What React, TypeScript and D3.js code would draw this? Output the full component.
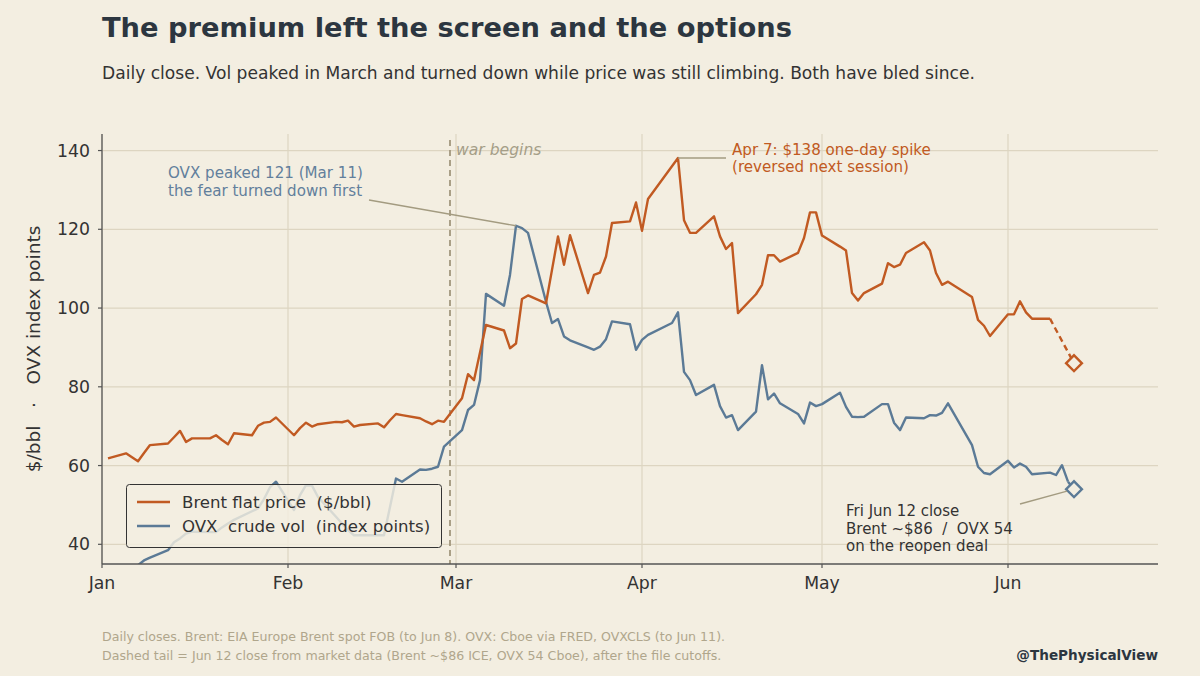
import { useEffect, useRef } from "react";
import * as d3 from "d3";

// Brent spot (EIA), daily closes
const brentDates = [
  "2026-01-02", "2026-01-05", "2026-01-06", "2026-01-07", "2026-01-08", "2026-01-09",
  "2026-01-12", "2026-01-13", "2026-01-14", "2026-01-15", "2026-01-16", "2026-01-19",
  "2026-01-20", "2026-01-21", "2026-01-22", "2026-01-23", "2026-01-26", "2026-01-27",
  "2026-01-28", "2026-01-29", "2026-01-30", "2026-02-02", "2026-02-03", "2026-02-04",
  "2026-02-05", "2026-02-06", "2026-02-09", "2026-02-10", "2026-02-11", "2026-02-12",
  "2026-02-13", "2026-02-16", "2026-02-17", "2026-02-18", "2026-02-19", "2026-02-20",
  "2026-02-23", "2026-02-24", "2026-02-25", "2026-02-26", "2026-02-27", "2026-03-02",
  "2026-03-03", "2026-03-04", "2026-03-05", "2026-03-06", "2026-03-09", "2026-03-10",
  "2026-03-11", "2026-03-12", "2026-03-13", "2026-03-16", "2026-03-17", "2026-03-18",
  "2026-03-19", "2026-03-20", "2026-03-23", "2026-03-24", "2026-03-25", "2026-03-26",
  "2026-03-27", "2026-03-30", "2026-03-31", "2026-04-01", "2026-04-02", "2026-04-07",
  "2026-04-08", "2026-04-09", "2026-04-10", "2026-04-13", "2026-04-14", "2026-04-15",
  "2026-04-16", "2026-04-17", "2026-04-20", "2026-04-21", "2026-04-22", "2026-04-23",
  "2026-04-24", "2026-04-27", "2026-04-28", "2026-04-29", "2026-04-30", "2026-05-01",
  "2026-05-04", "2026-05-05", "2026-05-06", "2026-05-07", "2026-05-08", "2026-05-11",
  "2026-05-12", "2026-05-13", "2026-05-14", "2026-05-15", "2026-05-18", "2026-05-19",
  "2026-05-20", "2026-05-21", "2026-05-22", "2026-05-26", "2026-05-27", "2026-05-28",
  "2026-05-29", "2026-06-01", "2026-06-02", "2026-06-03", "2026-06-04", "2026-06-05",
  "2026-06-08",
];
const brentClose = [
  61.8, 63.1, 62.1, 61.1, 63.2, 65.2,
  65.6, 67.2, 68.8, 66.0, 66.9, 66.9,
  67.7, 66.5, 65.4, 68.2, 67.7, 70.1,
  70.9, 71.1, 72.2, 67.7, 69.5, 70.9,
  69.9, 70.5, 71.1, 71.0, 71.4, 69.9,
  70.3, 70.7, 69.7, 71.5, 73.1, 72.8,
  72.0, 71.2, 70.5, 71.4, 71.1, 77.1,
  83.2, 81.7, 88.7, 95.7, 94.3, 89.8,
  91.0, 102.3, 103.2, 101.2, 109.7, 118.2,
  111.0, 118.5, 103.8, 108.4, 109.0, 113.1,
  121.6, 122.0, 126.8, 119.6, 127.7, 138.1,
  122.3, 119.1, 119.1, 123.3, 118.2, 115.0,
  116.5, 98.7, 103.5, 105.9, 113.4, 113.4,
  111.8, 114.0, 117.8, 124.3, 124.3, 118.4,
  115.6, 114.6, 103.8, 101.9, 103.8, 106.2,
  111.4, 110.4, 111.0, 114.0, 116.7, 114.6,
  108.9, 105.9, 106.7, 102.8, 97.0, 95.5,
  92.9, 98.4, 98.4, 101.7, 98.9, 97.3,
  97.3,
];

// OVX (Cboe via FRED), daily closes
const ovxDates = [
  "2026-01-02", "2026-01-05", "2026-01-06", "2026-01-07", "2026-01-08", "2026-01-09",
  "2026-01-12", "2026-01-13", "2026-01-14", "2026-01-15", "2026-01-16", "2026-01-20",
  "2026-01-21", "2026-01-22", "2026-01-23", "2026-01-26", "2026-01-27", "2026-01-28",
  "2026-01-29", "2026-01-30", "2026-02-02", "2026-02-03", "2026-02-04", "2026-02-05",
  "2026-02-06", "2026-02-09", "2026-02-10", "2026-02-11", "2026-02-12", "2026-02-13",
  "2026-02-17", "2026-02-18", "2026-02-19", "2026-02-20", "2026-02-23", "2026-02-24",
  "2026-02-25", "2026-02-26", "2026-02-27", "2026-03-02", "2026-03-03", "2026-03-04",
  "2026-03-05", "2026-03-06", "2026-03-09", "2026-03-10", "2026-03-11", "2026-03-12",
  "2026-03-13", "2026-03-16", "2026-03-17", "2026-03-18", "2026-03-19", "2026-03-20",
  "2026-03-23", "2026-03-24", "2026-03-25", "2026-03-26", "2026-03-27", "2026-03-30",
  "2026-03-31", "2026-04-01", "2026-04-02", "2026-04-06", "2026-04-07", "2026-04-08",
  "2026-04-09", "2026-04-10", "2026-04-13", "2026-04-14", "2026-04-15", "2026-04-16",
  "2026-04-17", "2026-04-20", "2026-04-21", "2026-04-22", "2026-04-23", "2026-04-24",
  "2026-04-27", "2026-04-28", "2026-04-29", "2026-04-30", "2026-05-01", "2026-05-04",
  "2026-05-05", "2026-05-06", "2026-05-07", "2026-05-08", "2026-05-11", "2026-05-12",
  "2026-05-13", "2026-05-14", "2026-05-15", "2026-05-18", "2026-05-19", "2026-05-20",
  "2026-05-21", "2026-05-22", "2026-05-26", "2026-05-27", "2026-05-28", "2026-05-29",
  "2026-06-01", "2026-06-02", "2026-06-03", "2026-06-04", "2026-06-05", "2026-06-08",
  "2026-06-09", "2026-06-10", "2026-06-11",
];
const ovxClose = [
  31.0, 32.5, 33.6, 34.7, 35.9, 36.6,
  38.5, 40.5, 41.5, 42.7, 43.2, 43.1,
  44.3, 45.3, 46.2, 48.4, 49.1, 51.5,
  54.5, 55.9, 48.7, 52.5, 55.0, 54.9,
  52.0, 47.0, 45.3, 43.6, 42.3, 42.3,
  42.3, 49.5, 56.7, 55.9, 59.0, 58.9,
  59.2, 59.7, 64.8, 69.0, 74.1, 75.4,
  81.7, 103.6, 100.6, 108.4, 120.9, 120.3,
  119.1, 101.6, 96.2, 97.2, 92.8, 91.8,
  90.0, 89.4, 90.2, 92.1, 96.6, 95.9,
  89.4, 91.9, 93.2, 96.2, 98.9, 83.8,
  81.7, 77.9, 80.5, 75.1, 72.2, 72.8,
  69.0, 73.7, 85.5, 76.8, 78.3, 75.8,
  73.1, 70.7, 76.0, 75.1, 75.6, 78.5,
  74.9, 72.4, 72.3, 72.4, 75.6, 75.6,
  70.9, 69.0, 72.2, 72.0, 72.8, 72.7,
  73.4, 75.8, 65.2, 59.7, 58.1, 57.8,
  61.2, 59.5, 60.5, 59.7, 57.8, 58.2,
  57.6, 60.1, 55.9,
];

// Jun 12 close from market data (after the file cutoffs)
const tailDate = "2026-06-12";
const brentTail = 86;
const ovxTail = 54;

const warDate = "2026-02-28";
const ovxPeakDate = "2026-03-11";
const ovxPeakValue = 120.9;
const brentSpikeDate = "2026-04-07";
const brentSpikeValue = 138.1;

const monthTicks = ["2026-01-01", "2026-02-01", "2026-03-01", "2026-04-01", "2026-05-01", "2026-06-01"];
const monthLabels = ["Jan", "Feb", "Mar", "Apr", "May", "Jun"];
const yTicks = [40, 60, 80, 100, 120, 140];

const BG = "#f3eee1";
const BRENT = "#c15a22";
const OVX = "#5b7a96";
const INK = "#2c3640";
const GRID = "#ddd5c1";
const LEADER = "#a39b80";
const FONT = "DejaVu Sans, sans-serif";

export default function App() {
  const svgRef = useRef<SVGSVGElement>(null);
  const width = 1200;
  const height = 676;

  useEffect(() => {
    if (!svgRef.current) return;
    const parse = d3.timeParse("%Y-%m-%d");
    const svg = d3.select(svgRef.current);
    svg.selectAll("*").remove();

    const left = 102;
    const right = 1158;
    const top = 134;
    const bottom = 564;

    const x = d3
      .scaleTime()
      .domain([parse("2026-01-01")!, parse("2026-06-26")!])
      .range([left, right]);
    const y = d3.scaleLinear().domain([35, 144.2]).range([bottom, top]);

    svg.append("rect").attr("width", width).attr("height", height).attr("fill", BG);

    // clip for the plot area
    svg
      .append("defs")
      .append("clipPath")
      .attr("id", "plot-clip")
      .append("rect")
      .attr("x", left)
      .attr("y", top)
      .attr("width", right - left)
      .attr("height", bottom - top);

    // Title + subtitle
    svg
      .append("text")
      .attr("x", 102)
      .attr("y", 37)
      .attr("font-family", FONT)
      .attr("font-size", 27.3)
      .attr("font-weight", "bold")
      .attr("fill", INK)
      .text("The premium left the screen and the options");
    svg
      .append("text")
      .attr("x", 102)
      .attr("y", 79)
      .attr("font-family", FONT)
      .attr("font-size", 17.1)
      .attr("fill", "#333")
      .text(
        "Daily close. Vol peaked in March and turned down while price was still climbing. Both have bled since."
      );

    // Grid
    const grid = svg.append("g");
    grid
      .selectAll("line.h")
      .data(yTicks)
      .enter()
      .append("line")
      .attr("x1", left)
      .attr("x2", right)
      .attr("y1", (d) => y(d))
      .attr("y2", (d) => y(d))
      .attr("stroke", GRID)
      .attr("stroke-width", 1.2);
    grid
      .selectAll("line.v")
      .data(monthTicks)
      .enter()
      .append("line")
      .attr("x1", (d) => x(parse(d)!))
      .attr("x2", (d) => x(parse(d)!))
      .attr("y1", top)
      .attr("y2", bottom)
      .attr("stroke", GRID)
      .attr("stroke-width", 1.2);

    // war begins marker
    const xWar = x(parse(warDate)!);
    svg
      .append("line")
      .attr("x1", xWar)
      .attr("x2", xWar)
      .attr("y1", 140)
      .attr("y2", bottom)
      .attr("stroke", "#a2977e")
      .attr("stroke-width", 1.8)
      .attr("stroke-dasharray", "6,4");
    svg
      .append("text")
      .attr("x", xWar + 6)
      .attr("y", 155)
      .attr("font-family", FONT)
      .attr("font-size", 15.6)
      .attr("font-style", "italic")
      .attr("fill", "#a59e88")
      .text("war begins");

    // Lines
    type Pt = { date: Date; value: number };
    const brent: Pt[] = brentDates.map((d, i) => ({ date: parse(d)!, value: brentClose[i] }));
    const ovx: Pt[] = ovxDates.map((d, i) => ({ date: parse(d)!, value: ovxClose[i] }));
    const line = d3
      .line<Pt>()
      .x((d) => x(d.date))
      .y((d) => y(d.value));

    const plot = svg.append("g").attr("clip-path", "url(#plot-clip)");
    plot
      .append("path")
      .attr("d", line(ovx))
      .attr("fill", "none")
      .attr("stroke", OVX)
      .attr("stroke-width", 2.4)
      .attr("stroke-linejoin", "round");
    plot
      .append("path")
      .attr("d", line(brent))
      .attr("fill", "none")
      .attr("stroke", BRENT)
      .attr("stroke-width", 2.4)
      .attr("stroke-linejoin", "round");

    // Dashed tails + diamonds
    const tail = parse(tailDate)!;
    const tails = [
      { last: brent[brent.length - 1], value: brentTail, color: BRENT },
      { last: ovx[ovx.length - 1], value: ovxTail, color: OVX },
    ];
    tails.forEach((t) => {
      plot
        .append("path")
        .attr("d", line([t.last, { date: tail, value: t.value }]))
        .attr("fill", "none")
        .attr("stroke", t.color)
        .attr("stroke-width", 2.4)
        .attr("stroke-dasharray", "6,4");
    });
    tails.forEach((t) => {
      svg
        .append("path")
        .attr("d", d3.symbol(d3.symbolSquare, 125)())
        .attr("transform", `translate(${x(tail)},${y(t.value)}) rotate(45)`)
        .attr("fill", BG)
        .attr("stroke", t.color)
        .attr("stroke-width", 2.4);
    });

    // Axes
    svg
      .append("line")
      .attr("x1", left)
      .attr("x2", left)
      .attr("y1", top)
      .attr("y2", bottom)
      .attr("stroke", "#555")
      .attr("stroke-width", 1.3);
    svg
      .append("line")
      .attr("x1", left)
      .attr("x2", right)
      .attr("y1", bottom)
      .attr("y2", bottom)
      .attr("stroke", "#555")
      .attr("stroke-width", 1.3);

    const yAx = svg.append("g");
    yTicks.forEach((t) => {
      yAx
        .append("line")
        .attr("x1", left - 4)
        .attr("x2", left)
        .attr("y1", y(t))
        .attr("y2", y(t))
        .attr("stroke", "#555")
        .attr("stroke-width", 1.2);
      yAx
        .append("text")
        .attr("x", left - 12)
        .attr("y", y(t))
        .attr("dy", "0.35em")
        .attr("text-anchor", "end")
        .attr("font-family", FONT)
        .attr("font-size", 17.3)
        .attr("fill", "#333")
        .text(t);
    });
    const xAx = svg.append("g");
    monthTicks.forEach((m, i) => {
      const xm = x(parse(m)!);
      xAx
        .append("line")
        .attr("x1", xm)
        .attr("x2", xm)
        .attr("y1", bottom)
        .attr("y2", bottom + 4)
        .attr("stroke", "#555")
        .attr("stroke-width", 1.2);
      xAx
        .append("text")
        .attr("x", xm)
        .attr("y", bottom + 25)
        .attr("text-anchor", "middle")
        .attr("font-family", FONT)
        .attr("font-size", 17.3)
        .attr("fill", "#333")
        .text(monthLabels[i]);
    });

    svg
      .append("text")
      .attr("transform", `translate(40,${(top + bottom) / 2}) rotate(-90)`)
      .attr("text-anchor", "middle")
      .attr("font-family", FONT)
      .attr("font-size", 18.5)
      .attr("fill", "#333")
      .attr("xml:space", "preserve")
      .text("$/bbl   ·   OVX index points");

    // Annotation: OVX peak
    const xPeak = x(parse(ovxPeakDate)!);
    svg
      .append("line")
      .attr("x1", 369)
      .attr("y1", 200)
      .attr("x2", xPeak)
      .attr("y2", y(ovxPeakValue))
      .attr("stroke", LEADER)
      .attr("stroke-width", 1.4);
    const peakText = svg
      .append("text")
      .attr("font-family", FONT)
      .attr("font-size", 15.1)
      .attr("fill", "#627f9c");
    peakText.append("tspan").attr("x", 168).attr("y", 178).text("OVX peaked 121 (Mar 11)");
    peakText.append("tspan").attr("x", 168).attr("y", 196).text("the fear turned down first");

    // Annotation: Brent spike
    const xSpike = x(parse(brentSpikeDate)!);
    svg
      .append("line")
      .attr("x1", xSpike)
      .attr("y1", y(brentSpikeValue))
      .attr("x2", 726)
      .attr("y2", y(brentSpikeValue))
      .attr("stroke", LEADER)
      .attr("stroke-width", 1.4);
    const spikeText = svg
      .append("text")
      .attr("font-family", FONT)
      .attr("font-size", 15.1)
      .attr("fill", BRENT);
    spikeText.append("tspan").attr("x", 732).attr("y", 155).text("Apr 7: $138 one-day spike");
    spikeText.append("tspan").attr("x", 732).attr("y", 172).text("(reversed next session)");

    // Annotation: Jun 12
    svg
      .append("line")
      .attr("x1", 1020)
      .attr("y1", 504)
      .attr("x2", x(tail) - 7)
      .attr("y2", y(ovxTail) + 2)
      .attr("stroke", LEADER)
      .attr("stroke-width", 1.4);
    const junText = svg
      .append("text")
      .attr("font-family", FONT)
      .attr("font-size", 15)
      .attr("fill", "#333")
      .attr("xml:space", "preserve");
    junText.append("tspan").attr("x", 846).attr("y", 516).text("Fri Jun 12 close");
    junText.append("tspan").attr("x", 846).attr("y", 533.5).text("Brent ~$86  /  OVX 54");
    junText.append("tspan").attr("x", 846).attr("y", 551).text("on the reopen deal");

    // Legend
    const lg = svg.append("g");
    lg.append("rect")
      .attr("x", 126.5)
      .attr("y", 484.5)
      .attr("width", 315)
      .attr("height", 63)
      .attr("rx", 3)
      .attr("fill", BG)
      .attr("fill-opacity", 0.82)
      .attr("stroke", "#333")
      .attr("stroke-width", 1);
    const items = [
      { label: "Brent flat price  ($/bbl)", color: BRENT },
      { label: "OVX  crude vol  (index points)", color: OVX },
    ];
    items.forEach((it, i) => {
      const yy = 502 + i * 24;
      lg.append("line")
        .attr("x1", 137)
        .attr("x2", 170)
        .attr("y1", yy)
        .attr("y2", yy)
        .attr("stroke", it.color)
        .attr("stroke-width", 2.4);
      lg.append("text")
        .attr("x", 182)
        .attr("y", yy)
        .attr("dy", "0.35em")
        .attr("font-family", FONT)
        .attr("font-size", 16.6)
        .attr("fill", "#333")
        .attr("xml:space", "preserve")
        .text(it.label);
    });

    // Footer
    const foot = svg
      .append("text")
      .attr("font-family", FONT)
      .attr("font-size", 12.6)
      .attr("fill", "#b0a68c");
    foot
      .append("tspan")
      .attr("x", 102)
      .attr("y", 641)
      .text("Daily closes. Brent: EIA Europe Brent spot FOB (to Jun 8). OVX: Cboe via FRED, OVXCLS (to Jun 11).");
    foot
      .append("tspan")
      .attr("x", 102)
      .attr("y", 660)
      .text("Dashed tail = Jun 12 close from market data (Brent ~$86 ICE, OVX 54 Cboe), after the file cutoffs.");
    svg
      .append("text")
      .attr("x", right)
      .attr("y", 660)
      .attr("text-anchor", "end")
      .attr("font-family", FONT)
      .attr("font-size", 13.6)
      .attr("font-weight", "bold")
      .attr("fill", INK)
      .text("@ThePhysicalView");
  }, []);

  return (
    <div style={{ position: "fixed", left: 0, top: 0, width, height, background: BG }}>
      <svg ref={svgRef} width={width} height={height}></svg>
    </div>
  );
}
